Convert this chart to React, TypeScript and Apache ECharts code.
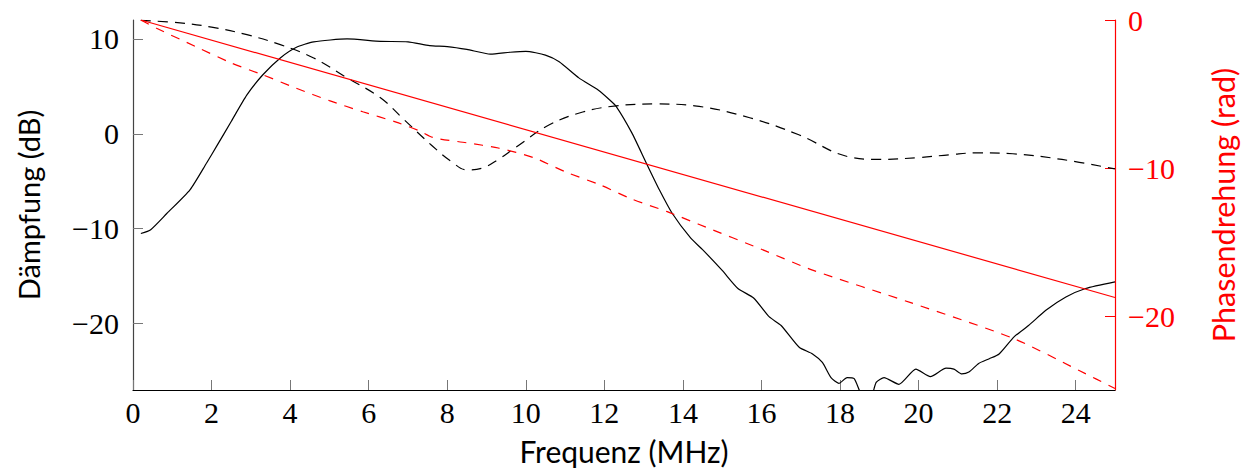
import React, { useEffect, useRef } from "react";
import * as echarts from "echarts";

// Frequency axis (MHz) and values
const ampMeasFreq = [0.2, 0.45, 0.86, 1.45, 1.87, 2.13, 2.5, 2.9, 3.3, 3.75, 4.15, 4.6, 5.45, 6.3, 7.0, 7.55, 8.0, 8.5, 9.1, 9.6, 10.0, 10.5, 10.85, 11.35, 11.85, 12.13, 12.3, 12.7, 13.07, 13.4, 13.73, 14.2, 14.5, 15.0, 15.4, 15.8, 16.2, 16.5, 16.96, 17.3, 17.55, 17.77, 17.97, 18.18, 18.36, 18.6, 18.78, 18.92, 19.12, 19.5, 19.93, 20.3, 20.7, 20.9, 21.1, 21.28, 21.53, 21.8, 22.05, 22.43, 22.8, 23.24, 23.75, 24.25, 25.0];
const ampMeasDb = [-10.5, -10.1, -8.4, -5.9, -3.1, -1.3, 1.3, 4.1, 6.2, 8.0, 9.1, 9.7, 10.0, 9.75, 9.7, 9.3, 9.2, 8.9, 8.4, 8.6, 8.7, 8.3, 7.6, 5.9, 4.6, 3.6, 2.9, 0.1, -3.1, -5.9, -8.4, -11.0, -12.2, -14.4, -16.3, -17.3, -19.3, -20.2, -22.5, -23.2, -24.1, -25.7, -26.3, -25.7, -25.8, -27.8, -27.8, -26.2, -25.7, -26.4, -24.8, -25.6, -24.7, -24.8, -25.3, -25.1, -24.2, -23.7, -23.2, -21.4, -20.2, -18.6, -17.2, -16.3, -15.6];

const ampSimFreq = [0.2, 1.2, 2.0, 2.9, 3.75, 4.6, 5.45, 6.3, 6.9, 7.6, 8.1, 8.5, 8.9, 9.3, 9.75, 10.6, 11.45, 12.3, 13.3, 14.3, 15.7, 16.95, 18.2, 19.0, 20.0, 20.8, 21.5, 22.4, 23.65, 25.0];
const ampSimDb = [11.95, 11.7, 11.25, 10.45, 9.4, 8.0, 5.9, 3.8, 1.5, -1.2, -2.9, -3.8, -3.6, -2.7, -1.4, 0.95, 2.3, 2.95, 3.15, 2.95, 1.7, -0.1, -2.4, -2.7, -2.5, -2.2, -2.0, -2.1, -2.7, -3.7];

const phaseLinFreq = [0.2, 25.0];
const phaseLinRad = [0, -18.75];

const phaseMeasFreq = [0.2, 0.6, 1.6, 2.5, 3.3, 4.15, 5.0, 5.85, 6.7, 7.3, 7.65, 8.5, 9.3, 10.2, 11.0, 11.9, 12.7, 13.6, 14.4, 16.1, 17.3, 19.8, 22.4, 24.1, 25.0];
const phaseMeasRad = [0, -0.56, -1.8, -2.9, -3.7, -4.6, -5.45, -6.2, -6.9, -7.5, -7.95, -8.3, -8.65, -9.3, -10.25, -11.15, -12.1, -12.95, -13.8, -15.6, -16.9, -19.1, -21.5, -23.7, -24.9];

const xTicks = [0, 2, 4, 6, 8, 10, 12, 14, 16, 18, 20, 22, 24];
const yLeftTicks = [-20, -10, 0, 10];
const yRightTicks = [-20, -10, 0];

const pairs = (xs: number[], ys: number[]) => xs.map((x, i) => [x, ys[i]]);
const fmt = (v: number) => (v < 0 ? "\u2212" + Math.abs(v) : String(v));

const RED = "#ff0000";
const SERIF = "'Liberation Serif', serif";
const SANS = "Lato, 'Noto Sans', sans-serif";

export default function App() {
  const ref = useRef<HTMLDivElement>(null);
  useEffect(() => {
    document.body.style.margin = "0";
    const chart = echarts.init(ref.current!, null, { renderer: "svg" });
    chart.setOption({
      animation: false,
      backgroundColor: "#fff",
      grid: { left: 133, right: 133, top: 20, bottom: 85 },
      xAxis: {
        type: "value",
        min: 0,
        max: 25,
        name: "Frequenz (MHz)",
        nameLocation: "middle",
        nameGap: 46,
        nameTextStyle: { fontFamily: SANS, fontSize: 30, color: "#000" },
        axisLine: { show: true, onZero: false, lineStyle: { color: "#000", width: 1.2 } },
        axisTick: { show: true, inside: true, length: 10, customValues: xTicks, lineStyle: { color: "#777", width: 1 } },
        axisLabel: { customValues: xTicks, fontFamily: SERIF, fontSize: 30, color: "#000", margin: 7, formatter: fmt },
        splitLine: { show: false },
      },
      yAxis: [
        {
          type: "value",
          position: "left",
          min: -27,
          max: 12,
          name: "Dämpfung (dB)",
          nameLocation: "middle",
          nameRotate: 90,
          nameGap: 90,
          nameTextStyle: { fontFamily: SANS, fontSize: 29, color: "#000" },
          axisLine: { show: true, onZero: false, lineStyle: { color: "#444", width: 1.2 } },
          axisTick: { show: true, inside: true, length: 10, customValues: yLeftTicks, lineStyle: { color: "#777", width: 1 } },
          axisLabel: { customValues: yLeftTicks, fontFamily: SERIF, fontSize: 30, color: "#000", margin: 14, formatter: fmt },
          splitLine: { show: false },
        },
        {
          type: "value",
          position: "right",
          min: -25,
          max: 0,
          name: "Phasendrehung (rad)",
          nameLocation: "middle",
          nameRotate: 90,
          nameGap: 92,
          nameTextStyle: { fontFamily: SANS, fontSize: 30.5, color: RED },
          axisLine: { show: true, onZero: false, lineStyle: { color: RED, width: 1.2 } },
          axisTick: { show: true, inside: true, length: 10, customValues: yRightTicks, lineStyle: { color: RED, width: 1 } },
          axisLabel: { customValues: yRightTicks, fontFamily: SERIF, fontSize: 30, color: RED, margin: 13, formatter: fmt },
          splitLine: { show: false },
        },
      ],
      series: [
        {
          type: "line",
          yAxisIndex: 0,
          data: pairs(ampSimFreq, ampSimDb),
          smooth: 0.4,
          showSymbol: false,
          clip: true,
          lineStyle: { color: "#000", width: 1.2, type: [10, 7] },
        },
        {
          type: "line",
          yAxisIndex: 0,
          data: pairs(ampMeasFreq, ampMeasDb),
          smooth: 0.2,
          showSymbol: false,
          clip: true,
          lineStyle: { color: "#000", width: 1.2 },
        },
        {
          type: "line",
          yAxisIndex: 1,
          data: pairs(phaseLinFreq, phaseLinRad),
          showSymbol: false,
          clip: true,
          lineStyle: { color: RED, width: 1.2 },
        },
        {
          type: "line",
          yAxisIndex: 1,
          data: pairs(phaseMeasFreq, phaseMeasRad),
          smooth: 0.25,
          showSymbol: false,
          clip: true,
          lineStyle: { color: RED, width: 1.2, type: [9, 8] },
        },
      ],
    });
    return () => chart.dispose();
  }, []);
  return <div ref={ref} style={{ width: 1248, height: 475 }} />;
}
